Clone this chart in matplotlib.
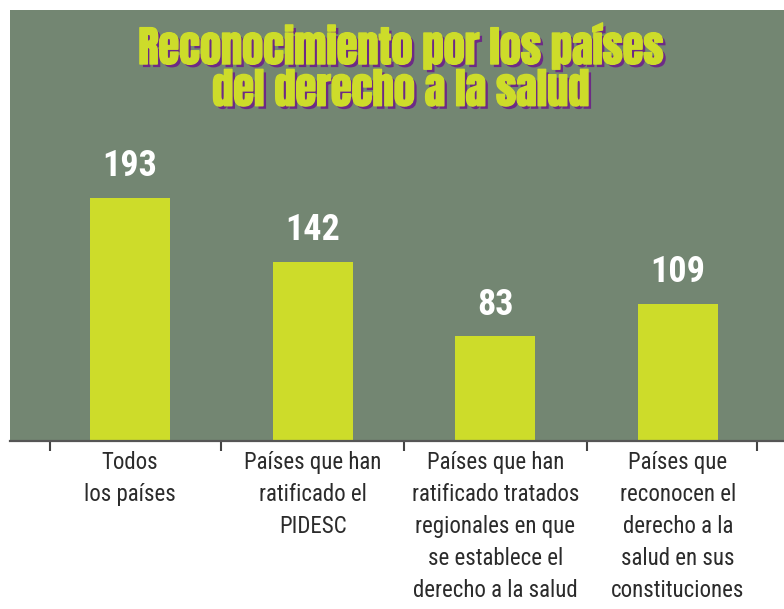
import matplotlib
matplotlib.use("Agg")
import matplotlib.pyplot as plt
import matplotlib.patheffects as pe

# datos
categorias = [
    "Todos\nlos países",
    "Países que han\nratificado el\nPIDESC",
    "Países que han\nratificado tratados\nregionales en que\nse establece el\nderecho a la salud",
    "Países que\nreconocen el\nderecho a la\nsalud en sus\nconstituciones",
]
valores = [193, 142, 83, 109]
titulo = "Reconocimiento por los países\ndel derecho a la salud"

FONDO = "#738672"
BARRA = "#cddc2a"
SOMBRA = "#6d2a86"
TEXTO = "#2b2b2b"
COND = ["Roboto Condensed", "DejaVu Sans"]
IMPACT = ["Anton", "Oswald", "DejaVu Sans"]

fig = plt.figure(figsize=(7.84, 6.09), dpi=100)
ax = fig.add_axes([10 / 784, 168 / 609, 774 / 784, 431 / 609])
ax.set_facecolor(FONDO)

x = list(range(len(valores)))
ax.bar(x, valores, width=0.438, color=BARRA, zorder=2)
for xi, v in zip(x, valores):
    ax.annotate(str(v), (xi, v), xytext=(0, 10), textcoords="offset points",
                ha="center", va="bottom", color="white", fontsize=26,
                fontweight="bold", family=COND)

ax.set_xlim(-0.657, 3.58)
ax.set_ylim(0, 342)
ax.set_yticks([])

# marcas entre categorías y etiquetas centradas
ax.set_xticks([-0.44, 0.5, 1.5, 2.5, 3.43])
ax.set_xticklabels([])
ax.tick_params(axis="x", which="major", direction="out", length=7.5,
               width=1.5, color="#444444")
ax.set_xticks(x, minor=True)
ax.set_xticklabels(categorias, minor=True, fontsize=16.5, family=COND,
                   color=TEXTO, linespacing=1.5)
ax.tick_params(axis="x", which="minor", length=0, pad=7)

for s in ["top", "right", "left"]:
    ax.spines[s].set_visible(False)
ax.spines["bottom"].set_color("#555555")
ax.spines["bottom"].set_linewidth(1.6)

ax.text(0.505, 0.97, titulo, transform=ax.transAxes, ha="center", va="top",
        fontsize=30.5, family=IMPACT, color=BARRA, linespacing=1.02,
        path_effects=[pe.withSimplePatchShadow(offset=(2.2, -2.2),
                                               shadow_rgbFace=SOMBRA, alpha=1),
                      pe.Stroke(linewidth=1.0, foreground=BARRA),
                      pe.Normal()])

fig.savefig("out.png", dpi=100)
